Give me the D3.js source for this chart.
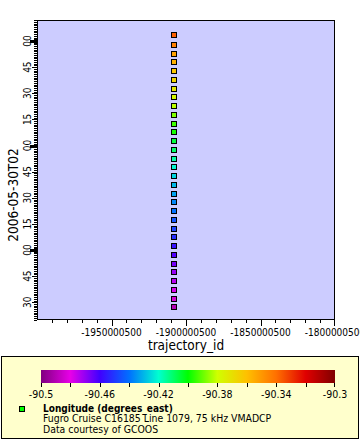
<!DOCTYPE html>
<html><head><meta charset="utf-8">
<script src="https://cdn.jsdelivr.net/npm/d3@7/dist/d3.min.js"></script>
<style>
html,body{margin:0;padding:0;background:#fff;}
svg{display:block;}
text{font-family:"DejaVu Sans Condensed","DejaVu Sans",sans-serif;fill:#000;}
</style></head>
<body>
<svg id="chart" width="360" height="440"></svg>
<script>
// ---- data ----
const times = ["04:03:26","03:57:52","03:52:42","03:48:07","03:42:57","03:37:47","03:32:37","03:28:01",
  "03:22:51","03:17:41","03:12:31","03:07:55","03:02:45","02:57:35","02:52:32","02:47:50",
  "02:42:40","02:37:29","02:32:19","02:27:33","02:22:23","02:17:13","02:12:04","02:07:28",
  "02:02:18","01:57:08","01:51:58","01:47:22","01:42:12","01:37:02","01:31:52","01:27:16"];
const longitudes = [-90.337,-90.344,-90.352,-90.356,-90.362,-90.366,-90.372,-90.378,
  -90.382,-90.388,-90.394,-90.398,-90.406,-90.41,-90.416,-90.421,
  -90.426,-90.43,-90.433,-90.437,-90.44,-90.445,-90.448,-90.452,
  -90.457,-90.462,-90.466,-90.47,-90.474,-90.478,-90.484,-90.49];
const trajectoryId = -1908054000;
const datePrefix = "2006-05-30T";
const timeDomain = ["01:19:49","04:12:04"];
const xDomain = [-2000000500, -1800000500];
const xMajorTicks = [-1950000500, -1900000500, -1850000500, -1800000500];
const xMinorStep = 10000000;
const cbStops = [-90.5,-90.48,-90.46,-90.44,-90.42,-90.4,-90.38,-90.36,-90.34,-90.32,-90.3];
const cbColors = ["#800080","#e800e8","#4000ff","#0070ff","#00ffd0","#00ff00","#d0ff00","#ffc000","#ff7000","#e00000","#800000"];
const cbTickLabels = [-90.5,-90.46,-90.42,-90.38,-90.34,-90.3];
const cbMinorStep = 0.02;
const yTitle = "2006-05-30T02";
const xTitle = "trajectory_id";
const legendTitle = "Longitude (degrees_east)";
const legendLines = ["Fugro Cruise C16185 Line 1079, 75 kHz VMADCP","Data courtesy of GCOOS"];

// ---- layout ----
const svg = d3.select("#chart");
const L = 37, R = 335, T = 20, B = 320;
const parse = s => new Date(datePrefix + s + "Z");
const y = d3.scaleUtc().domain(timeDomain.map(parse)).range([B, T]);
const x = d3.scaleLinear().domain(xDomain).range([L, R]);
const color = d3.scaleLinear().domain(cbStops).range(cbColors).clamp(true);
const px = v => Math.round(v) + 0.5;

// plot background
svg.append("rect").attr("x", L).attr("y", T).attr("width", R - L).attr("height", B - T).attr("fill", "#ccccff");

// y axis ticks
const yg = svg.append("g");
const minuteTicks = y.ticks(d3.utcMinute.every(1));
minuteTicks.forEach(t => {
  const m = t.getUTCMinutes();
  const yy = px(y(t));
  if (m === 0) {
    yg.append("line").attr("x1", L - 7).attr("x2", L).attr("y1", yy).attr("y2", yy).attr("stroke", "#000").attr("stroke-width", 3);
  } else if (m % 15 === 0) {
    yg.append("line").attr("x1", L - 5).attr("x2", L).attr("y1", yy).attr("y2", yy).attr("stroke", "#000");
  } else {
    yg.append("line").attr("x1", L - 3).attr("x2", L).attr("y1", yy).attr("y2", yy).attr("stroke", "#000");
  }
  if (m % 15 === 0) {
    yg.append("text").attr("transform", `translate(30.5,${y(t)}) rotate(-90)`)
      .attr("text-anchor", "middle").attr("font-size", 10).text(d3.utcFormat("%M")(t));
  }
});
// y title
svg.append("text").attr("transform", `translate(18,195) rotate(-90)`).attr("text-anchor", "middle")
  .attr("font-size", 13.5).text(yTitle);

// x axis ticks
const xg = svg.append("g");
d3.range(xDomain[0] + xMinorStep, xDomain[1] + 1, xMinorStep).forEach(v => {
  const isMajor = xMajorTicks.includes(v);
  const xx = px(x(v)) - (x(v) >= R ? 1 : 0);
  xg.append("line").attr("x1", xx).attr("x2", xx).attr("y1", B).attr("y2", B + (isMajor ? 6 : 3)).attr("stroke", "#000");
});
xMajorTicks.forEach(v => {
  xg.append("text").attr("x", x(v)).attr("y", 336).attr("text-anchor", "middle").attr("font-size", 10).text(String(v));
});
svg.append("text").attr("x", 186).attr("y", 350).attr("text-anchor", "middle").attr("font-size", 13.5).text(xTitle);

// frame
svg.append("rect").attr("x", L + 0.5).attr("y", T + 0.5).attr("width", R - L - 1).attr("height", B - T - 1)
  .attr("fill", "none").attr("stroke", "#000");

// points
svg.append("g").selectAll("rect").data(times.map((t, i) => ({t: parse(t), lon: longitudes[i]})))
  .join("rect")
  .attr("x", d => Math.round(x(trajectoryId)) - 2.5)
  .attr("y", d => Math.round(y(d.t)) - 2.5)
  .attr("width", 5).attr("height", 5)
  .attr("fill", d => color(d.lon)).attr("stroke", "#000").attr("stroke-width", 1);

// legend box
svg.append("rect").attr("x", 1.5).attr("y", 356.5).attr("width", 357).attr("height", 82)
  .attr("fill", "#ffffcc").attr("stroke", "#000");

// colorbar
const cb = d3.scaleLinear().domain([-90.5, -90.3]).range([41, 335]);
const defs = svg.append("defs");
const grad = defs.append("linearGradient").attr("id", "cbgrad").attr("x1", "0%").attr("x2", "100%");
cbStops.forEach((s, i) => grad.append("stop").attr("offset", ((cb(s) - 41) / 294 * 100) + "%").attr("stop-color", cbColors[i]));
svg.append("rect").attr("x", 41).attr("y", 370).attr("width", 294).attr("height", 13).attr("fill", "url(#cbgrad)");
d3.range(0, 11).map(i => -90.5 + i * cbMinorStep).forEach(v => {
  const xx = px(cb(v)) - (cb(v) >= 335 ? 1 : 0);
  svg.append("line").attr("x1", xx).attr("x2", xx).attr("y1", 383).attr("y2", 387).attr("stroke", "#000");
});
cbTickLabels.forEach(v => {
  svg.append("text").attr("x", cb(v)).attr("y", 398).attr("text-anchor", "middle").attr("font-size", 10.5).text(String(v));
});

// legend entry
svg.append("rect").attr("x", 19.5).attr("y", 406.5).attr("width", 5).attr("height", 5).attr("fill", "#00ff00").attr("stroke", "#000");
svg.append("text").attr("x", 43).attr("y", 411.5).attr("font-size", 10).attr("font-weight", "bold").text(legendTitle);
legendLines.forEach((s, i) => {
  svg.append("text").attr("x", 43).attr("y", 422 + i * 11).attr("font-size", 10.4).text(s);
});
</script>
</body></html>
